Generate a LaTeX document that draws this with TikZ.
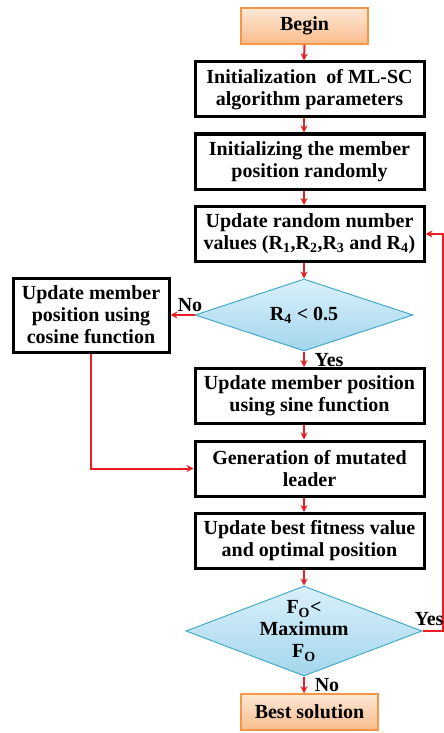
\documentclass[tikz,border=0pt]{standalone}
\usepackage{fontspec}
\setmainfont{Liberation Serif}
\usetikzlibrary{shapes.geometric,arrows.meta}
\definecolor{arrowred}{RGB}{235,30,35}
\definecolor{orangeb}{RGB}{247,150,70}
\definecolor{orangetop}{RGB}{253,232,214}
\definecolor{orangebot}{RGB}{249,188,140}
\definecolor{bluetop}{RGB}{218,240,250}
\definecolor{bluebot}{RGB}{163,214,237}
\definecolor{blueb}{RGB}{70,170,200}
\begin{document}
\begin{tikzpicture}[x=1pt,y=-1pt,
 txt/.style={font=\fontsize{20}{22}\selectfont\bfseries, align=center},
 procbox/.style={draw=black, line width=3pt, minimum width=229pt, minimum height=55pt, inner sep=0pt, txt},
 termbox/.style={draw=orangeb, line width=1.5pt, top color=orangetop, bottom color=orangebot, minimum height=36pt, inner sep=0pt, txt},
 decision/.style={diamond, draw=blueb, line width=1pt, top color=bluetop, bottom color=bluebot, inner sep=0pt},
 flow/.style={draw=arrowred, line width=2pt, -{Stealth[length=7pt,width=7pt]}},
 lbl/.style={txt}]
\useasboundingbox (0,0) rectangle (444,733);
\coordinate (col) at (304,0);
\node[termbox, minimum width=127pt] (begin) at (304.5,26) {Begin};
\node[procbox] (b1) at (309.5,89.5) {Initialization\ \ of ML-SC\\algorithm parameters};
\node[procbox] (b2) at (309.5,161.5) {Initializing the member\\position randomly};
\node[procbox] (b3) at (309.5,234) {Update random number\\values (R\textsubscript{1},R\textsubscript{2},R\textsubscript{3} and R\textsubscript{4})};
\node[decision, minimum width=218pt, minimum height=72pt] (d1) at (304,315) {};
\node[txt] (d1t) at (d1.center) {R\textsubscript{4} < 0.5};
\node[procbox, minimum width=156pt, minimum height=74pt] (lb) at (91,315) {Update member\\position using\\cosine function};
\node[procbox] (b4) at (309.5,396) {Update member position\\using sine function};
\node[procbox] (b5) at (309.5,468.5) {Generation of mutated\\leader};
\node[procbox] (b6) at (309.5,541) {Update best fitness value\\and optimal position};
\node[decision, minimum width=236pt, minimum height=90pt] (d2) at (304,631) {};
\node[txt] (d2t) at (d2.center) {F\textsubscript{O}<\\Maximum\\F\textsubscript{O}};
\node[termbox, minimum width=137pt] (end) at (309.5,712) {Best solution};
\coordinate (fb) at (443,631);
\draw[flow] (begin.south) -- (col |- b1.north);
\draw[flow] (col |- b1.south) -- (col |- b2.north);
\draw[flow] (col |- b2.south) -- (col |- b3.north);
\draw[flow] (col |- b3.south) -- (d1.north);
\draw[flow] (d1.west) -- (lb.east);
\draw[flow] (d1.south) -- (col |- b4.north);
\draw[flow] (lb.south) |- (b5.west);
\draw[flow] (col |- b4.south) -- (col |- b5.north);
\draw[flow] (col |- b5.south) -- (col |- b6.north);
\draw[flow] (col |- b6.south) -- (d2.north);
\draw[flow] (d2.south) -- (col |- end.north);
\draw[flow] (d2.east) -- (fb) |- (b3.east);
\node[lbl] (lno1) at (190,305) {No};
\node[lbl] (lyes1) at (329,360) {Yes};
\node[lbl] (lyes2) at (429,619) {Yes};
\node[lbl] (lno2) at (327,685) {No};
\end{tikzpicture}
\end{document}
